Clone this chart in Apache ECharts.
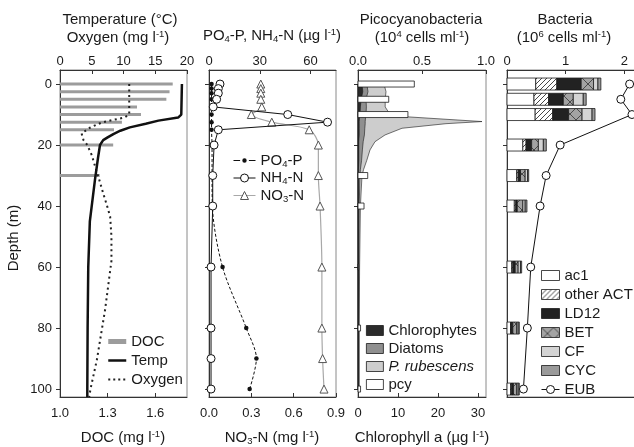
<!DOCTYPE html>
<html>
<head>
<meta charset="utf-8">
<title>Depth profiles</title>
<style>
  html, body { margin: 0; padding: 0; background: #fff; }
  #chart { width: 634px; height: 447px; }
</style>
</head>
<body>
<div id="chart"></div>
<script src="https://cdn.jsdelivr.net/npm/echarts@6/dist/echarts.min.js"></script>
<script>
// ---- data ----
var depthTicks = [0, 20, 40, 60, 80, 100];
var tempTicks = [0, 5, 10, 15, 20];
var docTicks = [1.0, 1.3, 1.6];
var nutTicks = [0, 30, 60];
var no3Ticks = [0, 0.3, 0.6, 0.9];
var pcyTicks = [0, 0.5, 1.0];
var chlTicks = [0, 10, 20, 30];
var bacTicks = [0, 1, 2];

// panel 1: DOC (mg/l), temperature (C), oxygen (mg/l)
var docDepth = [0, 2.5, 5, 7.5, 10, 12.5, 15, 20, 30];
var docVal = [1.71, 1.69, 1.67, 1.485, 1.51, 1.39, 1.34, 1.335, 1.25];
var tempDepth = [0, 10, 11, 12, 13, 14.2, 15.3, 16.4, 17.5, 18.4, 20, 24, 31.5, 45, 60, 80, 100, 102.6];
var tempVal = [19.2, 19.1, 18.6, 15.5, 13.5, 11.0, 9.5, 8.4, 7.5, 6.8, 6.3, 6.0, 5.5, 4.7, 4.45, 4.35, 4.3, 4.3];
var oxyDepth = [0, 10, 11, 11.8, 12.6, 14.2, 16.2, 18.4, 20, 23.3, 28.2, 31.5, 35.8, 40.2, 43.5, 50, 58, 74, 90.5, 100, 102.6];
var oxyVal = [10.9, 10.9, 10.1, 8.3, 6.6, 4.8, 3.4, 3.7, 4.3, 5.0, 5.7, 6.2, 6.8, 7.45, 7.9, 8.1, 8.1, 7.1, 5.8, 4.8, 4.6];

// panel 2: nutrients
var nutDepth = [0, 1.5, 3, 5, 7.5, 10, 12.5, 15, 20, 30, 40, 60, 80, 90, 100];
var po4 = [1.5, 1.5, 1.5, 1.5, 1.5, 1.5, 1.5, 1.5, 1.8, 1.8, 2.0, 8, 22, 28, 24];
var nh4 = [6.5, 5.5, 5.5, 4.5, 2.5, 46.5, 70, 5.5, 3, 2.2, 2.2, 1.2, 1.2, 1.2, 1.2];
var no3 = [0.367, 0.367, 0.367, 0.367, 0.374, 0.30, 0.445, 0.71, 0.775, 0.775, 0.787, 0.80, 0.80, 0.805, 0.815];

// panel 3: chlorophyll a groups (ug/l) and picocyanobacteria (1e4 cells/ml)
var chlDepth = [0, 2.5, 5, 7.5, 10, 10.75, 12.3, 13, 14.5, 16.7, 18.9, 21.6, 25, 28, 30, 40, 60, 80, 100];
var chloro = [1.0, 1.2, 0.8, 0.6, 0.5, 0.4, 0.3, 0.3, 0.3, 0.3, 0.2, 0.2, 0.2, 0.1, 0.1, 0.1, 0.1, 0.1, 0.1];
var diatoms = [1.2, 1.3, 1.2, 1.5, 1.5, 1.5, 1.5, 1.5, 1.4, 1.3, 1.1, 0.9, 0.7, 0.5, 0.4, 0.2, 0.1, 0.1, 0.1];
var prub = [4.3, 4.5, 4.8, 4.7, 6.0, 10.4, 29.2, 20.2, 9.3, 5.15, 2.95, 1.9, 1.3, 0.8, 0.5, 0.3, 0.2, 0.1, 0.1];
var pcyDepth = [0, 5, 10, 30, 40, 60, 80, 100];
var pcy = [0.44, 0.24, 0.39, 0.076, 0.047, 0.005, 0.02, 0.02];

// panel 4: bacteria (1e6 cells/ml)
var bacDepth = [0, 5, 10, 20, 30, 40, 60, 80, 100];
var ac1 = [0.49, 0.46, 0.48, 0.27, 0.165, 0.125, 0.08, 0.06, 0.06];
var otherACT = [0.36, 0.25, 0.30, 0.055, 0.025, 0.025, 0.02, 0.01, 0.02];
var ld12 = [0.415, 0.25, 0.27, 0.095, 0.04, 0.025, 0.04, 0.03, 0.03];
var bet = [0.21, 0.17, 0.23, 0.115, 0.08, 0.095, 0.05, 0.065, 0.055];
var cf = [0.075, 0.17, 0.17, 0.085, 0.04, 0.04, 0.04, 0.025, 0.025];
var cyc = [0.05, 0.05, 0.05, 0.05, 0.02, 0.03, 0.02, 0.02, 0.02];
var eub = [2.09, 1.94, 2.13, 0.906, 0.667, 0.564, 0.405, 0.347, 0.28];

// ---- styling helpers ----
var FONT = '"Liberation Sans", Arial, sans-serif';
var INK = '#1a1a1a';
var AX = '#333';

function pattern(size, draw) {
  var c = document.createElement('canvas');
  c.width = size; c.height = size;
  draw(c.getContext('2d'), size);
  return { image: c, repeat: 'repeat' };
}
var hatch = pattern(5, function (g, s) {
  g.fillStyle = '#fff'; g.fillRect(0, 0, s, s);
  g.strokeStyle = '#333'; g.lineWidth = 0.9;
  g.beginPath();
  g.moveTo(0, s); g.lineTo(s, 0);
  g.moveTo(-1, 1); g.lineTo(1, -1);
  g.moveTo(s - 1, s + 1); g.lineTo(s + 1, s - 1);
  g.stroke();
});
var crossed = pattern(12, function (g, s) {
  g.fillStyle = '#a3a3a3'; g.fillRect(0, 0, s, s);
  g.strokeStyle = '#333'; g.lineWidth = 0.8;
  g.beginPath();
  g.moveTo(0, 0); g.lineTo(s, s);
  g.moveTo(0, s); g.lineTo(s, 0);
  g.stroke();
});

var RICH = {
  t: { fontSize: 15, fontFamily: FONT, color: INK, lineHeight: 17 },
  i: { fontSize: 15, fontFamily: FONT, color: INK, lineHeight: 17, fontStyle: 'italic' },
  sup: { fontSize: 9.5, fontFamily: FONT, color: INK, verticalAlign: 'top' },
  sub: { fontSize: 9.5, fontFamily: FONT, color: INK, verticalAlign: 'bottom' }
};

function label(x, y, s, rot) {
  return {
    type: 'text', x: x, y: y, rotation: rot || 0,
    style: { text: s, rich: RICH, fontSize: 15, fontFamily: FONT, fill: INK,
             align: 'center', verticalAlign: 'middle' }
  };
}

function xAxis(grid, pos, min, max, ticks, fmt, showLabel) {
  return {
    type: 'value', gridIndex: grid, position: pos, min: min, max: max,
    splitLine: { show: false },
    axisLine: { show: true, onZero: false, lineStyle: { color: AX, width: 1 } },
    axisTick: { show: ticks.length > 0, inside: true, length: 4, customValues: ticks, lineStyle: { color: AX } },
    axisLabel: { show: showLabel, customValues: ticks, formatter: fmt, fontSize: 13, fontFamily: FONT,
                 color: INK, margin: pos === 'top' ? 2 : 10 }
  };
}
function yAxis(grid, showLabel) {
  return {
    type: 'value', gridIndex: grid, inverse: true, min: -4.6, max: 102.6,
    splitLine: { show: false },
    axisLine: { show: true, onZero: false, lineStyle: { color: AX, width: 1 } },
    axisTick: { show: true, inside: false, length: 4, customValues: depthTicks, lineStyle: { color: AX } },
    axisLabel: { show: showLabel, customValues: depthTicks, fontSize: 13, fontFamily: FONT, color: INK, margin: 8 }
  };
}
function fixed(n) { return function (v) { return v.toFixed(n); }; }
function pairs(xs, ds) { return xs.map(function (v, i) { return [v, ds[i]]; }); }

// horizontal bar drawn in data space
function hbar(api, x0, x1, d, h) {
  var a = api.coord([x0, d]);
  var b = api.coord([x1, d]);
  return { x: a[0], y: a[1] - h / 2, width: b[0] - a[0], height: h };
}

// ---- panel 3 stacked chlorophyll profiles ----
var chlLayers = [chloro, diatoms, prub];
function chlTop(k, i) {
  var s = 0;
  for (var j = 0; j <= k; j++) s += chlLayers[j][i];
  return s;
}
function chlSeries(name, k, fill) {
  return {
    type: 'custom', name: name, xAxisIndex: 5, yAxisIndex: 2, z: 2,
    data: [[0, 0]],
    itemStyle: { color: fill, borderColor: INK, borderWidth: 0.8 },
    renderItem: function (params, api) {
      var pts = chlDepth.map(function (d, i) { return api.coord([chlTop(k, i), d]); });
      pts.push(api.coord([0, chlDepth[chlDepth.length - 1]]));
      pts.push(api.coord([0, chlDepth[0]]));
      return { type: 'polygon', shape: { points: pts },
               style: { fill: fill, stroke: INK, lineWidth: 0.6 } };
    }
  };
}

// ---- panel 4 stacked bacteria bars ----
var bacGroups = [ac1, otherACT, ld12, bet, cf, cyc];
var bacNames = ['ac1', 'other ACT', 'LD12', 'BET', 'CF', 'CYC'];
var bacFill = ['#ffffff', hatch, '#222222', crossed, '#d4d4d4', '#9a9a9a'];
function bacSeries(k) {
  return {
    type: 'custom', name: bacNames[k], xAxisIndex: 6, yAxisIndex: 3, z: 2,
    data: pairs(bacGroups[k], bacDepth),
    itemStyle: { color: bacFill[k], borderColor: INK, borderWidth: 0.8 },
    renderItem: function (params, api) {
      var i = params.dataIndex, s = 0;
      for (var j = 0; j < k; j++) s += bacGroups[j][i];
      return { type: 'rect', shape: hbar(api, s, s + bacGroups[k][i], bacDepth[i], 12),
               style: { fill: bacFill[k], stroke: INK, lineWidth: 0.8 } };
    }
  };
}

var thinBox = { borderWidth: 0.8, borderColor: INK };
var thinLine = { width: 1 };

var chart = echarts.init(document.getElementById('chart'), null, { renderer: 'canvas' });

var option = {
  animation: false,
  backgroundColor: '#fff',
  textStyle: { fontFamily: FONT },
  grid: [
    { left: 60, top: 70, width: 127, height: 327, show: true, borderColor: '#8a8a8a', borderWidth: 1, outerBoundsMode: 'none' },
    { left: 209, top: 70, width: 127, height: 327, show: true, borderColor: '#8a8a8a', borderWidth: 1, outerBoundsMode: 'none' },
    { left: 358, top: 70, width: 128, height: 327, show: true, borderColor: '#8a8a8a', borderWidth: 1, outerBoundsMode: 'none' },
    { left: 507, top: 70, width: 132, height: 327, show: true, borderColor: '#8a8a8a', borderWidth: 1, outerBoundsMode: 'none' }
  ],
  xAxis: [
    xAxis(0, 'top', 0, 20, tempTicks, null, true),
    xAxis(0, 'bottom', 1.0, 1.8, docTicks, fixed(1), true),
    xAxis(1, 'top', 0, 75, nutTicks, null, true),
    xAxis(1, 'bottom', 0, 0.9, no3Ticks, fixed(1), true),
    xAxis(2, 'top', 0, 1.0, pcyTicks, fixed(1), true),
    xAxis(2, 'bottom', 0, 32, chlTicks, null, true),
    xAxis(3, 'top', 0, 2.25, bacTicks, null, true),
    xAxis(3, 'bottom', 0, 2.25, [], null, false)
  ],
  yAxis: [yAxis(0, true), yAxis(1, false), yAxis(2, false), yAxis(3, false)],
  legend: [
    {
      left: 107, top: 334, padding: 0, orient: 'vertical', itemWidth: 18, itemHeight: 5, itemGap: 4,
      selectedMode: false, textStyle: { fontSize: 15, fontFamily: FONT, color: INK },
      data: [
        { name: 'DOC', icon: 'rect', itemStyle: { borderWidth: 0 } },
        { name: 'Temp', itemStyle: { opacity: 0 }, lineStyle: { width: 2.5 } },
        { name: 'Oxygen', itemStyle: { opacity: 0 }, lineStyle: { width: 2, type: [2, 3] } }
      ]
    },
    {
      left: 233, top: 153, padding: 0, orient: 'vertical', itemWidth: 22, itemHeight: 10, itemGap: 1.5,
      selectedMode: false, textStyle: { fontSize: 15, fontFamily: FONT, color: INK, rich: RICH },
      formatter: function (n) {
        return { 'PO4-P': '{t|PO}{sub|4}{t|-P}', 'NH4-N': '{t|NH}{sub|4}{t|-N}', 'NO3-N': '{t|NO}{sub|3}{t|-N}' }[n];
      },
      data: [
        { name: 'PO4-P', icon: 'path://M0,4.5h6v1h-6z M8,5a2,2 0 1,0 4,0a2,2 0 1,0 -4,0z M14,4.5h6v1h-6z', itemStyle: { borderWidth: 0 } },
        { name: 'NH4-N', itemStyle: { borderWidth: 1 }, lineStyle: thinLine },
        { name: 'NO3-N', itemStyle: { borderWidth: 1 }, lineStyle: thinLine }
      ]
    },
    {
      left: 366, top: 323, padding: 0, orient: 'vertical', itemWidth: 17, itemHeight: 10, itemGap: 3,
      selectedMode: false, textStyle: { fontSize: 15, fontFamily: FONT, color: INK, rich: RICH },
      formatter: function (n) { return n === 'P. rubescens' ? '{i|P. rubescens}' : '{t|' + n + '}'; },
      data: [
        { name: 'Chlorophytes', icon: 'rect', itemStyle: thinBox },
        { name: 'Diatoms', icon: 'rect', itemStyle: thinBox },
        { name: 'P. rubescens', icon: 'rect', itemStyle: thinBox },
        { name: 'pcy', icon: 'rect', itemStyle: thinBox }
      ]
    },
    {
      left: 541, top: 268, padding: 0, orient: 'vertical', itemWidth: 18, itemHeight: 10, itemGap: 4,
      selectedMode: false, textStyle: { fontSize: 15, fontFamily: FONT, color: INK },
      data: [
        { name: 'ac1', icon: 'rect', itemStyle: thinBox },
        { name: 'other ACT', icon: 'rect', itemStyle: thinBox },
        { name: 'LD12', icon: 'rect', itemStyle: thinBox },
        { name: 'BET', icon: 'rect', itemStyle: thinBox },
        { name: 'CF', icon: 'rect', itemStyle: thinBox },
        { name: 'CYC', icon: 'rect', itemStyle: thinBox },
        { name: 'EUB', itemStyle: { borderWidth: 1 }, lineStyle: thinLine }
      ]
    }
  ],
  graphic: {
    elements: [
      label(120, 20, '{t|Temperature (°C)}'),
      label(118, 38, '{t|Oxygen (mg l}{sup|-1}{t|)}'),
      label(272, 36, '{t|PO}{sub|4}{t|-P, NH}{sub|4}{t|-N (µg l}{sup|-1}{t|)}'),
      label(421, 20, '{t|Picocyanobacteria}'),
      label(422, 38, '{t|(10}{sup|4}{t| cells ml}{sup|-1}{t|)}'),
      label(565, 20, '{t|Bacteria}'),
      label(564, 38, '{t|(10}{sup|6}{t| cells ml}{sup|-1}{t|)}'),
      label(123, 438, '{t|DOC (mg l}{sup|-1}{t|)}'),
      label(272, 438, '{t|NO}{sub|3}{t|-N (mg l}{sup|-1}{t|)}'),
      label(422, 438, '{t|Chlorophyll a (µg l}{sup|-1}{t|)}'),
      label(14, 238, '{t|Depth (m)}', Math.PI / 2)
    ]
  },
  series: [
    // panel 1
    {
      type: 'custom', name: 'DOC', xAxisIndex: 1, yAxisIndex: 0, z: 2,
      data: pairs(docVal, docDepth),
      itemStyle: { color: '#9c9c9c' },
      renderItem: function (params, api) {
        return { type: 'rect', shape: hbar(api, 1.0, api.value(0), api.value(1), 3),
                 style: { fill: '#9c9c9c' } };
      }
    },
    {
      type: 'line', name: 'Oxygen', xAxisIndex: 0, yAxisIndex: 0, z: 3,
      data: pairs(oxyVal, oxyDepth), symbol: 'none',
      lineStyle: { color: '#222', width: 2, type: [2, 3.5] }, itemStyle: { color: '#222' }
    },
    {
      type: 'line', name: 'Temp', xAxisIndex: 0, yAxisIndex: 0, z: 4,
      data: pairs(tempVal, tempDepth), symbol: 'none',
      lineStyle: { color: '#111', width: 2.5 }, itemStyle: { color: '#111' }
    },
    // panel 2
    {
      type: 'line', name: 'NO3-N', xAxisIndex: 3, yAxisIndex: 1, z: 3, smooth: 0.3,
      data: pairs(no3, nutDepth), symbol: 'triangle', symbolSize: 8,
      lineStyle: { color: '#a8a8a8', width: 1.2 },
      itemStyle: { color: '#fff', borderColor: '#555', borderWidth: 1 }
    },
    {
      type: 'line', name: 'PO4-P', xAxisIndex: 2, yAxisIndex: 1, z: 4, smooth: 0.3,
      data: pairs(po4, nutDepth), symbol: 'circle', symbolSize: 4.5,
      lineStyle: { color: '#111', width: 1, type: [3, 2] },
      itemStyle: { color: '#111' }
    },
    {
      type: 'line', name: 'NH4-N', xAxisIndex: 2, yAxisIndex: 1, z: 5,
      data: pairs(nh4, nutDepth), symbol: 'circle', symbolSize: 8,
      lineStyle: { color: '#111', width: 1 },
      itemStyle: { color: '#fff', borderColor: '#111', borderWidth: 1 }
    },
    // panel 3
    chlSeries('P. rubescens', 2, '#cdcdcd'),
    chlSeries('Diatoms', 1, '#8f8f8f'),
    chlSeries('Chlorophytes', 0, '#2b2b2b'),
    {
      type: 'custom', name: 'pcy', xAxisIndex: 4, yAxisIndex: 2, z: 3,
      data: pairs(pcy, pcyDepth),
      itemStyle: { color: '#fff', borderColor: INK, borderWidth: 0.8 },
      renderItem: function (params, api) {
        return { type: 'rect', shape: hbar(api, 0, api.value(0), api.value(1), 6),
                 style: { fill: '#fff', stroke: INK, lineWidth: 0.8 } };
      }
    },
    // panel 4
    bacSeries(0), bacSeries(1), bacSeries(2), bacSeries(3), bacSeries(4), bacSeries(5),
    {
      type: 'line', name: 'EUB', xAxisIndex: 6, yAxisIndex: 3, z: 5,
      data: pairs(eub, bacDepth), symbol: 'circle', symbolSize: 8,
      lineStyle: { color: '#111', width: 1 },
      itemStyle: { color: '#fff', borderColor: '#111', borderWidth: 1 }
    }
  ]
};

chart.setOption(option);
</script>
</body>
</html>
